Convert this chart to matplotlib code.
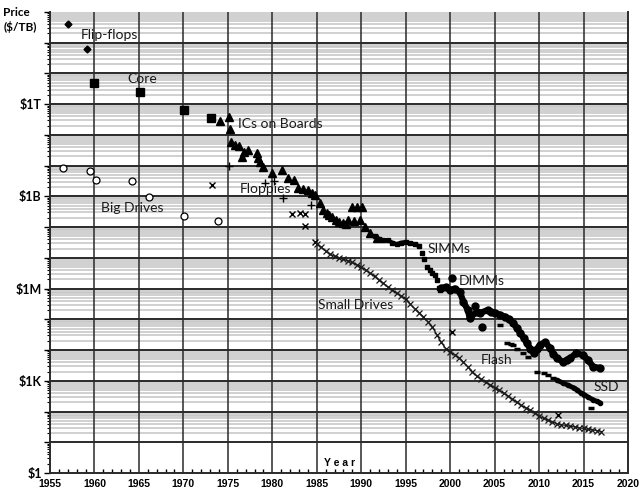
import numpy as np
import matplotlib
matplotlib.use("Agg")
import matplotlib.pyplot as plt
from matplotlib.ticker import FixedLocator, LogLocator, NullFormatter

flipflop_years = [1957.0, 1959.2]
flipflop_exp = [14.60, 13.80]

core_years = [1960.0, 1965.1, 1970.1, 1973.1]
core_exp = [12.69, 12.40, 11.81, 11.55]

bigdrive_years = [1956.5, 1959.5, 1960.2, 1964.2, 1966.1, 1970.1, 1973.9]
bigdrive_exp = [9.93, 9.83, 9.53, 9.50, 8.98, 8.36, 8.20]

ic_years = [1974.1, 1975.1, 1975.2, 1975.4, 1975.8, 1976.2, 1976.6, 1976.8, 1977.3,
            1978.3, 1978.4, 1978.6, 1979.0, 1980.0, 1981.1, 1981.8, 1982.4, 1982.9,
            1983.5, 1984.0, 1984.5, 1984.8, 1985.4, 1985.7, 1986.1, 1986.4, 1986.7,
            1987.2, 1987.5, 1988.0, 1988.3, 1988.5, 1989.0, 1989.2, 1989.5, 1989.9,
            1990.1, 1990.4, 1991.0, 1991.8]
ic_exp = [11.45, 11.58, 11.19, 10.77, 10.67, 10.64, 10.28, 10.45, 10.51,
          10.41, 10.25, 10.12, 9.96, 9.76, 9.86, 9.60, 9.53, 9.27,
          9.24, 9.21, 9.11, 9.05, 8.79, 8.56, 8.46, 8.40, 8.33,
          8.23, 8.17, 8.14, 8.10, 8.23, 8.66, 8.20, 8.66, 8.23,
          8.66, 8.00, 7.81, 7.65]

floppy_years = [1975.1, 1979.2, 1980.2, 1981.2, 1984.4]
floppy_exp = [9.99, 9.44, 9.50, 8.95, 8.72]

small_early_years = [1973.2, 1982.2, 1983.1, 1983.7, 1983.7, 1984.8, 2000.2, 2012.1]
small_early_exp = [9.37, 8.43, 8.46, 8.43, 8.04, 7.52, 4.59, 1.89]

small_years = [1985.0, 1985.5, 1986.0, 1986.5, 1987.0, 1987.5, 1988.0, 1988.5, 1989.0,
               1989.5, 1990.0, 1990.5, 1991.0, 1991.5, 1992.0, 1992.5, 1993.0, 1993.5,
               1994.0, 1994.5, 1995.0, 1995.5, 1996.0, 1996.5, 1997.0, 1997.5, 1998.0,
               1998.5, 1999.0, 1999.5, 2000.0, 2000.5, 2001.0, 2001.5, 2002.0, 2002.5,
               2003.0, 2003.5, 2004.0, 2004.5, 2005.0, 2005.5, 2006.0, 2006.5, 2007.0,
               2007.5, 2008.0, 2008.5, 2009.0, 2009.5, 2010.0, 2010.5, 2011.0, 2011.5,
               2012.0, 2012.5, 2013.0, 2013.5, 2014.0, 2014.5, 2015.0, 2015.5, 2016.0,
               2016.5, 2017.0]
small_exp = [7.45, 7.35, 7.22, 7.12, 7.05, 7.00, 6.95, 6.90, 6.85,
             6.78, 6.70, 6.60, 6.50, 6.40, 6.28, 6.17, 6.05, 5.95,
             5.85, 5.76, 5.65, 5.50, 5.35, 5.22, 5.08, 4.92, 4.75,
             4.50, 4.25, 4.05, 3.95, 3.85, 3.75, 3.60, 3.45, 3.30,
             3.15, 3.05, 2.95, 2.87, 2.78, 2.70, 2.60, 2.50, 2.40,
             2.30, 2.20, 2.12, 2.05, 1.95, 1.85, 1.78, 1.72, 1.66,
             1.60, 1.57, 1.55, 1.52, 1.50, 1.47, 1.45, 1.42, 1.40,
             1.38, 1.35]

simm_years = [1991.5, 1992.0, 1992.5, 1993.0, 1993.5, 1994.0, 1994.5, 1995.0,
              1995.5, 1996.0, 1996.5]
simm_exp = [7.70, 7.62, 7.58, 7.57, 7.50, 7.45, 7.50, 7.52, 7.48, 7.45, 7.38]
simm_drop_years = [1996.8, 1997.1, 1997.4, 1997.7, 1998.0, 1998.3, 1998.5, 1998.7, 1998.9]
simm_drop_exp = [7.16, 6.95, 6.70, 6.60, 6.51, 6.45, 6.28, 6.02, 5.95]

dimm_years = [1999.0, 1999.5, 2000.0, 2000.5, 2001.1, 2001.5, 2002.0, 2002.2, 2003.0,
              2003.4, 2004.2, 2004.6, 2005.0, 2005.6, 2006.2, 2006.6, 2007.1, 2007.5,
              2007.9, 2008.3, 2008.6, 2009.0, 2009.4, 2009.8, 2010.1, 2010.7, 2011.2,
              2011.6, 2012.0, 2012.7, 2013.1, 2013.5, 2014.2, 2014.9, 2015.5, 2016.1,
              2016.9]
dimm_exp = [6.02, 6.05, 5.95, 6.00, 5.89, 5.56, 5.30, 5.04, 5.25,
            5.21, 5.30, 5.25, 5.21, 5.15, 5.08, 5.00, 4.88, 4.72,
            4.56, 4.38, 4.23, 4.05, 3.90, 4.05, 4.17, 4.26, 4.07,
            3.88, 3.74, 3.61, 3.68, 3.74, 3.90, 3.84, 3.68, 3.45,
            3.42]
dimm_odd_years = [2000.2, 2002.8, 2003.6]
dimm_odd_exp = [6.35, 5.43, 4.75]

flash_years = [2005.6, 2006.4, 2006.8, 2007.1, 2007.5, 2008.2, 2008.8, 2009.8, 2010.5,
               2011.0, 2011.6, 2015.8]
flash_exp = [4.82, 4.23, 4.20, 4.17, 4.05, 3.90, 3.77, 3.29, 3.25, 3.20, 3.09, 2.12]

ssd_years = [2012.0, 2012.7, 2013.3, 2013.9, 2014.3, 2014.7, 2015.1, 2015.5, 2016.1,
             2016.5, 2016.9]
ssd_exp = [3.02, 2.93, 2.85, 2.77, 2.70, 2.60, 2.55, 2.47, 2.38, 2.33, 2.28]

# label text, left edge year, height exponent
labels = [("Flip-flops", 1958.5, 14.25), ("Core", 1963.7, 12.82),
          ("ICs on Boards", 1976.1, 11.36), ("Floppies", 1976.3, 9.24),
          ("Big Drives", 1960.7, 8.62), ("SIMMs", 1997.5, 7.29),
          ("DIMMs", 2001.0, 6.25), ("Small Drives", 1985.1, 5.47),
          ("Flash", 2003.4, 3.68), ("SSD", 2016.1, 2.80)]

ytick_exp = [0, 3, 6, 9, 12]
ytick_text = ["\\$1", "\\$1K", "\\$1M", "\\$1B", "\\$1T"]
xtick_years = list(range(1955, 2021, 5))


def p(e):
    return 10 ** np.array(e)


fig = plt.figure(figsize=(6.41, 4.91), dpi=100)
ax = fig.add_axes([50 / 641, 18 / 491, 578 / 641, 461 / 491])
ax.set_yscale("log")
ax.set_xlim(1955, 2020)
ax.set_ylim(1, 1e15)

# grid: log minor lines in gray, decades and 5-year lines in black
for d in range(1, 15):
    for m in range(2, 10):
        ax.axhline(m * 10.0 ** d, color="#c4c4c4", lw=1.1, zorder=0.5)
for d in range(1, 15):
    ax.axhline(10.0 ** d, color="#2a2a2a", lw=1.4, zorder=1)
for yr in range(1960, 2020, 5):
    ax.axvline(yr, color="#2a2a2a", lw=1.1, zorder=1)

k = dict(color="black", linestyle="none", zorder=3)
ax.plot(flipflop_years, p(flipflop_exp), marker="D", ms=3.5, **k)
ax.plot(core_years, p(core_exp), marker="s", ms=5.5, **k)
ax.plot(bigdrive_years, p(bigdrive_exp), marker="o", ms=5, mfc="white", mew=0.9, **k)
ax.plot(ic_years, p(ic_exp), marker="^", ms=5.5, **k)
ax.plot(floppy_years, p(floppy_exp), marker="+", ms=6, mew=1.0, **k)
ax.plot(small_early_years, p(small_early_exp), marker="x", ms=5, mew=1.0, **k)
ax.plot(small_years, p(small_exp), color="#1a1a1a", lw=0.9, marker="x", ms=4.5,
        mew=0.9, zorder=3)
ax.plot(simm_years, p(simm_exp), color="black", lw=2.8, marker="s", ms=2.5, zorder=3)
ax.plot(simm_drop_years, p(simm_drop_exp), marker="s", ms=3, **k)
ax.plot(dimm_years, p(dimm_exp), color="black", lw=4.5, marker="o", ms=5,
        solid_capstyle="round", zorder=3)
ax.plot(dimm_odd_years, p(dimm_odd_exp), marker="o", ms=5, **k)
ax.plot(flash_years, p(flash_exp), marker="_", ms=5, mew=2.5, **k)
ax.plot(ssd_years, p(ssd_exp), color="black", lw=3.5, marker="o", ms=3,
        solid_capstyle="round", zorder=3)

for txt, x, e in labels:
    ax.text(x, 10 ** e, txt, fontsize=10, family="Lato", color="#1a1a1a",
            ha="left", va="center", zorder=4)

ax.text(1987.6, 2.1, "Y e a r", fontsize=7.5, fontweight="bold",
        family="Liberation Sans", ha="center", va="center", zorder=4)
fig.text(0.005, 0.985, "Price\n($/TB)", fontsize=8.5, fontweight="bold",
         family="Lato", ha="left", va="top", linespacing=1.3)

ax.yaxis.set_major_locator(FixedLocator([10.0 ** d for d in range(0, 16)]))
ax.yaxis.set_minor_locator(LogLocator(base=10, subs=np.arange(2, 10), numticks=200))
ax.yaxis.set_minor_formatter(NullFormatter())
ylabels = []
for d in range(0, 16):
    ylabels.append(ytick_text[ytick_exp.index(d)] if d in ytick_exp else "")
ax.set_yticklabels(ylabels, fontsize=9, fontweight="bold", family="Lato")
ax.tick_params(axis="y", which="major", length=4, width=1.0, direction="out", pad=2)
ax.tick_params(axis="y", which="minor", length=2, width=0.8, direction="out")

ax.set_xticks(xtick_years)
ax.set_xticklabels([str(y) for y in xtick_years], fontsize=7.5, fontweight="bold",
                   family="Liberation Sans")
ax.set_xticks(range(1955, 2021), minor=True)
ax.tick_params(axis="x", which="major", length=0, pad=4)
ax.tick_params(axis="x", which="minor", length=3, width=1.0, direction="in")

for s in ["left", "bottom", "right"]:
    ax.spines[s].set_linewidth(1.4)
    ax.spines[s].set_color("#2a2a2a")
ax.spines["top"].set_visible(False)

fig.savefig("out.png", dpi=100)
